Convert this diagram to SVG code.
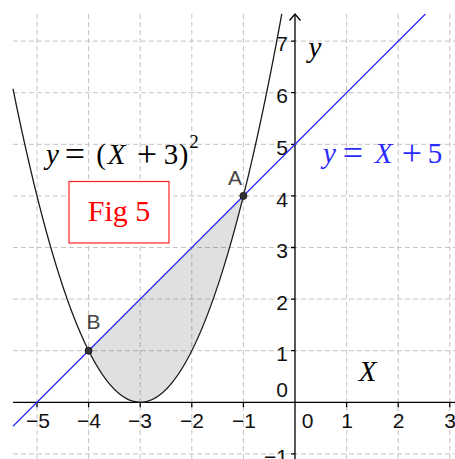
<svg xmlns="http://www.w3.org/2000/svg" width="455" height="459" viewBox="0 0 455 459">
<style>
.grid{stroke:#c4c4c4;stroke-width:1;stroke-dasharray:5 3;fill:none}
.axis{stroke:#000;stroke-width:1.3;fill:none}
.tick{font-family:"Liberation Sans",Arial,sans-serif;font-size:21px;fill:#111}
.xt{text-anchor:middle}
.yt{text-anchor:end}
.pt{fill:#333;stroke:#1a1a1a;stroke-width:1}
.plabel{font-family:"Liberation Sans",Arial,sans-serif;font-size:21px;fill:#444}
.math{font-family:"Liberation Serif","Times New Roman",serif;font-size:29px;text-anchor:middle}
.it{font-style:italic}
.op{font-size:36px}
</style>
<rect width="455" height="459" fill="#fff"/>
<g id="grid">
<path class="grid" d="M37,14V459M88.6,14V459M140.2,14V459M191.8,14V459M243.4,14V459M346.6,14V459M398.2,14V459M449.8,14V459"/>
<path class="grid" d="M13,41.1H455M13,92.7H455M13,144.3H455M13,195.9H455M13,247.5H455M13,299.1H455M13,350.7H455M13,453.9H455"/>
</g>
<g id="region">
<path d="M88.6,350.7Q166,505.5 243.4,195.9Z" fill="#000" fill-opacity="0.12"/>
</g>
<g id="axes">
<path class="axis" d="M13,402.3H455M295,14V459"/>
<path class="axis" d="M289.5,20.5L295,14L300.5,20.5"/>
<path class="axis" d="M37,402.3v5M88.6,402.3v5M140.2,402.3v5M191.8,402.3v5M243.4,402.3v5M346.6,402.3v5M398.2,402.3v5M449.8,402.3v5"/>
<path class="axis" d="M295,41.1h-4M295,92.7h-4M295,144.3h-4M295,195.9h-4M295,247.5h-4M295,299.1h-4M295,350.7h-4M295,453.9h-4"/>
<text class="tick xt" x="38" y="428">−5</text>
<text class="tick xt" x="89" y="428">−4</text>
<text class="tick xt" x="140" y="428">−3</text>
<text class="tick xt" x="192" y="428">−2</text>
<text class="tick xt" x="244" y="428">−1</text>
<text class="tick xt" x="307.5" y="428">0</text>
<text class="tick xt" x="347" y="428">1</text>
<text class="tick xt" x="398.5" y="428">2</text>
<text class="tick xt" x="450" y="428">3</text>
<text class="tick yt" x="288" y="51">7</text>
<text class="tick yt" x="288" y="103">6</text>
<text class="tick yt" x="288" y="155">5</text>
<text class="tick yt" x="288" y="207">4</text>
<text class="tick yt" x="288" y="258">3</text>
<text class="tick yt" x="288" y="309.5">2</text>
<text class="tick yt" x="288" y="361">1</text>
<text class="tick yt" x="288" y="397">0</text>
<text class="tick yt" x="288" y="464">−1</text>
<text class="math it" x="315" y="57">y</text>
<text class="math it" x="367.5" y="381">X</text>
</g>
<g id="connectors">
<path id="parabola" d="M13,88.8Q147.4,751.3 281.8,13.8" fill="none" stroke="#1a1a1a" stroke-width="1.3"/>
<path id="line" d="M13,426.3L425.4,14" fill="none" stroke="#2b2bff" stroke-width="1.3"/>
</g>
<g id="pointA">
<circle class="pt" cx="243.4" cy="195.9" r="3.5"/>
<text class="plabel" x="228" y="185">A</text>
</g>
<g id="pointB">
<circle class="pt" cx="88.6" cy="350.7" r="3.5"/>
<text class="plabel" x="86.5" y="329">B</text>
</g>
<g id="eq1">
<text class="math" y="164" fill="#000"><tspan class="it" x="52.5" y="164">y</tspan><tspan class="op" x="75" y="165.5">=</tspan><tspan x="101" y="164">(</tspan><tspan class="it" x="116.5" y="164">X</tspan><tspan class="op" x="147" y="165.5">+</tspan><tspan x="171" y="164">3</tspan><tspan x="183.5" y="164">)</tspan><tspan x="194" y="148" font-size="19">2</tspan></text>
</g>
<g id="eq2">
<text class="math" y="163" fill="#2b2bff"><tspan class="it" x="329.5" y="163">y</tspan><tspan class="op" x="353" y="164.5">=</tspan><tspan class="it" x="383.5" y="163">X</tspan><tspan class="op" x="412" y="164.5">+</tspan><tspan x="435" y="163">5</tspan></text>
</g>
<g id="fig5">
<rect x="69" y="181.5" width="100" height="61.5" fill="#fff" stroke="#f22" stroke-width="1.2"/>
<text x="119" y="221" font-family="'Liberation Serif','Times New Roman',serif" font-size="30" fill="#f00" text-anchor="middle">Fig 5</text>
</g>
</svg>
